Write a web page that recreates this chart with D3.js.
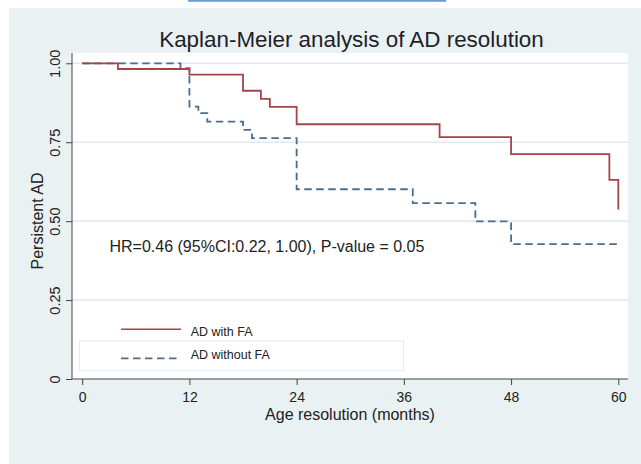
<!DOCTYPE html>
<html>
<head>
<meta charset="utf-8">
<script src="https://cdn.jsdelivr.net/npm/d3@7"></script>
<style>
  html, body { margin: 0; padding: 0; background: #ffffff; }
  svg { display: block; }
  text { font-family: Arial, "Liberation Sans", sans-serif; fill: #222; }
</style>
</head>
<body>
<svg id="chart" width="641" height="464"></svg>
<script>
// Kaplan-Meier step estimates: follow-up month of each step and survival after it
const timeWithFA = [0, 4, 12, 18, 20, 21, 24, 40, 48, 59, 60];
const survWithFA = [1, 0.982, 0.964, 0.913, 0.887, 0.862, 0.807, 0.766, 0.712, 0.631, 0.537];

const timeWithoutFA = [0, 11, 12, 13, 14, 18, 19, 24, 37, 44, 48, 60];
const survWithoutFA = [1, 0.985, 0.863, 0.842, 0.815, 0.789, 0.763, 0.601, 0.557, 0.499, 0.427, 0.427];

const seriesNames = ["AD with FA", "AD without FA"];
const monthTicks = [0, 12, 24, 36, 48, 60];
const survTicks = [0, 0.25, 0.5, 0.75, 1];

const titleText = "Kaplan-Meier analysis of AD resolution";
const xTitle = "Age resolution (months)";
const yTitle = "Persistent AD";
const statsText = "HR=0.46 (95%CI:0.22, 1.00), P-value = 0.05";

const svg = d3.select("#chart");

// plot region bounds
const plot = { left: 72, right: 628, top: 53, bottom: 379 };

const x = d3.scaleLinear().domain([0, 60]).range([82.2, 618.3]);
const y = d3.scaleLinear().domain([0, 1]).range([379, 63.3]);

// link underline strip along the top edge
svg.append("rect").attr("x", 188).attr("y", 0).attr("width", 258).attr("height", 1.8)
  .attr("fill", "#6f9ad8");

// graph background
svg.append("rect").attr("x", 9).attr("y", 8).attr("width", 632).attr("height", 456)
  .attr("fill", "#eaf1f3");

// plot region
svg.append("rect")
  .attr("x", plot.left).attr("y", plot.top)
  .attr("width", plot.right - plot.left).attr("height", plot.bottom - plot.top)
  .attr("fill", "#ffffff");

// horizontal grid lines
svg.append("g").selectAll("line")
  .data(survTicks.filter(d => d > 0))
  .join("line")
  .attr("x1", plot.left).attr("x2", plot.right)
  .attr("y1", d => y(d)).attr("y2", d => y(d))
  .attr("stroke", "#e3eaed").attr("stroke-width", 1.6);

// title
svg.append("text")
  .attr("x", 351.5).attr("y", 46.7)
  .attr("text-anchor", "middle")
  .style("font-size", "22.4px")
  .style("fill", "#1f1f2a")
  .text(titleText);

// x axis
const xAxis = svg.append("g")
  .attr("transform", `translate(0,${plot.bottom})`)
  .call(d3.axisBottom(x).tickValues(monthTicks).tickSize(6).tickSizeOuter(0));
xAxis.select(".domain").remove();
xAxis.selectAll(".tick line").attr("stroke", "#444");
xAxis.selectAll(".tick text")
  .attr("y", 22.5).attr("dy", 0)
  .style("font-size", "14px")
  .style("font-family", "Arial, 'Liberation Sans', sans-serif")
  .attr("fill", "#222");

// y axis
const yAxis = svg.append("g")
  .attr("transform", `translate(${plot.left},0)`)
  .call(d3.axisLeft(y).tickValues(survTicks).tickSize(6).tickSizeOuter(0)
    .tickFormat(d => d === 0 ? "0" : d3.format(".2f")(d)));
yAxis.select(".domain").remove();
yAxis.selectAll(".tick line").attr("stroke", "#444");
yAxis.selectAll(".tick text")
  .attr("x", null).attr("dy", null)
  .attr("transform", "translate(-12,0) rotate(-90)")
  .attr("text-anchor", "middle")
  .style("font-size", "14.5px")
  .style("font-family", "Arial, 'Liberation Sans', sans-serif")
  .attr("fill", "#222");

// axis lines along the plot region
svg.append("line")
  .attr("x1", plot.left).attr("x2", plot.left)
  .attr("y1", plot.top).attr("y2", plot.bottom)
  .attr("stroke", "#444").attr("stroke-width", 1);
svg.append("line")
  .attr("x1", plot.left).attr("x2", plot.right)
  .attr("y1", plot.bottom).attr("y2", plot.bottom)
  .attr("stroke", "#444").attr("stroke-width", 1);

// axis titles
svg.append("text")
  .attr("x", 350).attr("y", 420)
  .attr("text-anchor", "middle")
  .style("font-size", "16px")
  .text(xTitle);
svg.append("text")
  .attr("transform", `translate(43,${(plot.top + plot.bottom) / 2 + 5}) rotate(-90)`)
  .attr("text-anchor", "middle")
  .style("font-size", "16px")
  .text(yTitle);

// survival curves
const stepLine = d3.line()
  .x(d => x(d[0]))
  .y(d => y(d[1]))
  .curve(d3.curveStepAfter);

const colors = ["#a5434a", "#4b6d8f"];

svg.append("path")
  .datum(d3.zip(timeWithoutFA, survWithoutFA))
  .attr("d", stepLine)
  .attr("fill", "none")
  .attr("stroke", colors[1])
  .attr("stroke-width", 1.8)
  .attr("stroke-dasharray", "7.5,4.5");

svg.append("path")
  .datum(d3.zip(timeWithFA, survWithFA))
  .attr("d", stepLine)
  .attr("fill", "none")
  .attr("stroke", colors[0])
  .attr("stroke-width", 1.8);

// hazard ratio annotation
svg.append("text")
  .attr("x", 109.5).attr("y", 251.5)
  .style("font-size", "16px")
  .text(statsText);

// legend
const legend = svg.append("g");
legend.append("rect")
  .attr("x", 79.5).attr("y", 341)
  .attr("width", 324).attr("height", 29.7)
  .attr("fill", "none")
  .attr("stroke", "#e3eaed").attr("stroke-width", 1);

const legendRows = [329.3, 358.3];
seriesNames.forEach((name, i) => {
  legend.append("line")
    .attr("x1", 121).attr("x2", 181)
    .attr("y1", legendRows[i]).attr("y2", legendRows[i])
    .attr("stroke", colors[i])
    .attr("stroke-width", i === 0 ? 1.4 : 1.8)
    .attr("stroke-dasharray", i === 0 ? null : "7.5,4.5");
  legend.append("text")
    .attr("x", 190.7).attr("y", legendRows[i] + (i === 0 ? 6.7 : 0.8))
    .style("font-size", "12.5px")
    .text(name);
});
</script>
</body>
</html>
